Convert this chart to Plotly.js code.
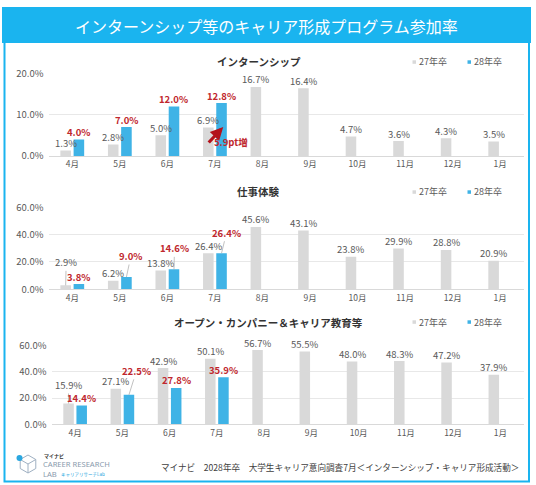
<!DOCTYPE html>
<html>
<head>
<meta charset="utf-8">
<script src="https://cdn.plot.ly/plotly-3.0.1.min.js"></script>
<style>
html,body{margin:0;padding:0;background:#fff;}
#chart{width:536px;height:485px;}
</style>
</head>
<body>
<div id="chart"></div>
<script>
// ---- data ----
const categories = ['4月','5月','6月','7月','8月','9月','10月','11月','12月','1月'];
const seriesNames = ['27年卒','28年卒'];
const panelTitles = ['インターンシップ','仕事体験','オープン・カンパニー＆キャリア教育等'];
const intern27 = [1.3, 2.8, 5.0, 6.9, 16.7, 16.4, 4.7, 3.6, 4.3, 3.5];
const intern28 = [4.0, 7.0, 12.0, 12.8];
const work27 = [2.9, 6.2, 13.8, 26.4, 45.6, 43.1, 23.8, 29.9, 28.8, 20.9];
const work28 = [3.8, 9.0, 14.6, 26.4];
const open27 = [15.9, 27.1, 42.9, 50.1, 56.7, 55.5, 48.0, 48.3, 47.2, 37.9];
const open28 = [14.4, 22.5, 27.8, 35.9];
const yMax = [20, 60, 60];
const yStep = [10, 20, 20];
const mainTitle = 'インターンシップ等のキャリア形成プログラム参加率';
const footerText = 'マイナビ　2028年卒　大学生キャリア意向調査7月＜インターンシップ・キャリア形成活動＞';
const calloutText = '5.9pt増';

// ---- layout helpers (pixel -> paper) ----
const W = 536, H = 485;
const px = x => x / W;
const py = y => 1 - y / H;

const FONT = '"Noto Sans CJK JP", "Noto Sans", sans-serif';
const GRAY = '#d9d9d9';
const BLUE = '#3fb3e6';
const RED = '#c0272d';
const FRAME = '#1ab4ef';
const TXT = '#595959';

const panels = [
  {old: intern27, neu: intern28, xd: [48.5, 524], yd: [156, 73.3], titleX: 259, titleY: 62},
  {old: work27, neu: work28, xd: [48.5, 524], yd: [289.3, 207.3], titleX: 258, titleY: 192},
  {old: open27, neu: open28, xd: [51.5, 524], yd: [424.3, 345.7], titleX: 268, titleY: 322}
];

// label placements needing leader lines: [panel, series(0=old,1=new), index, ax, ay]
const leaders = [
  [1, 0, 0, 0.5, -23],
  [1, 1, 1, 4.5, -21],
  [1, 1, 2, 0.5, -21],
  [1, 1, 3, 5, -20.5],
  [2, 0, 0, 0, -18.5],
  [2, 1, 1, 7.5, -24]
];

const traces = [];
const annotations = [];
const shapes = [];
const layout = {
  width: W, height: H,
  margin: {l: 0, r: 0, t: 0, b: 0},
  paper_bgcolor: '#ffffff',
  plot_bgcolor: 'rgba(0,0,0,0)',
  barmode: 'group',
  bargap: 0.444,
  bargroupgap: 0.2,
  showlegend: false,
  font: {family: FONT, color: TXT}
};

panels.forEach((p, i) => {
  const n = i === 0 ? '' : String(i + 1);
  const xa = 'x' + n, ya = 'y' + n;
  traces.push({
    type: 'bar', name: seriesNames[0], x: categories, y: p.old,
    xaxis: xa, yaxis: ya, marker: {color: GRAY}, hoverinfo: 'skip'
  });
  traces.push({
    type: 'bar', name: seriesNames[1], x: categories.slice(0, p.neu.length), y: p.neu,
    xaxis: xa, yaxis: ya, marker: {color: BLUE}, hoverinfo: 'skip'
  });
  layout['xaxis' + n] = {
    type: 'category', domain: [px(p.xd[0]), px(p.xd[1])], anchor: ya,
    categoryorder: 'array', categoryarray: categories,
    showgrid: false, showline: true, linecolor: GRAY, linewidth: 1,
    ticks: '', tickfont: {family: FONT, size: 8.5, color: TXT}, fixedrange: true
  };
  layout['yaxis' + n] = {
    domain: [py(p.yd[0]), py(p.yd[1])], anchor: xa,
    range: [0, yMax[i]], dtick: yStep[i], tick0: 0,
    tickformat: '.1f', ticksuffix: '%',
    showgrid: true, gridcolor: '#e8e8e8', gridwidth: 1, zeroline: false,
    showline: false, ticks: '', ticklabelstandoff: 4,
    tickfont: {family: FONT, size: 9.5, color: TXT}, fixedrange: true
  };
  // panel title
  annotations.push({
    xref: 'paper', yref: 'paper', x: px(p.titleX), y: py(p.titleY),
    xanchor: 'center', yanchor: 'middle', showarrow: false,
    text: panelTitles[i], font: {family: FONT, size: 10.5, color: '#333333', weight: 'bold'}
  });
  // legend
  const legY = p.titleY;
  [[412.5, GRAY, seriesNames[0]], [467.5, BLUE, seriesNames[1]]].forEach(([lx, c, t]) => {
    shapes.push({type: 'rect', xref: 'paper', yref: 'paper',
      x0: px(lx), x1: px(lx + 3.5), y0: py(legY + 1.8), y1: py(legY - 1.7),
      fillcolor: c, line: {width: 0}});
    annotations.push({xref: 'paper', yref: 'paper', x: px(lx + 4.5), y: py(legY),
      xanchor: 'left', yanchor: 'middle', showarrow: false, text: t,
      font: {family: FONT, size: 9, color: TXT}});
  });
  // data labels
  const half = (p.xd[1] - p.xd[0]) / categories.length * (1 - layout.bargap) / 4;
  [p.old, p.neu].forEach((arr, s) => {
    arr.forEach((v, k) => {
      const lead = leaders.find(l => l[0] === i && l[1] === s && l[2] === k);
      const a = {
        xref: xa, yref: ya, x: categories[k], y: v,
        xshift: s === 0 ? -half : half,
        text: v.toFixed(1) + '%',
        font: s === 0 ? {family: FONT, size: 9.5, color: TXT}
                      : {family: FONT, size: 9.5, color: RED, weight: 'bold'}
      };
      if (lead) {
        Object.assign(a, {showarrow: true, arrowhead: 0, arrowwidth: 0.7,
          arrowcolor: '#a6a6a6', ax: lead[3], ay: lead[4], standoff: 0, startstandoff: 0});
      } else {
        Object.assign(a, {showarrow: false, yshift: 7.5});
      }
      annotations.push(a);
    });
  });
});

// callout arrow on panel 1
annotations.push({
  xref: 'x', yref: 'y', x: categories[3], y: 7.0, xshift: 8.3,
  showarrow: true, text: ' ', font: {size: 1}, borderpad: 0,
  ax: -15, ay: 16,
  arrowhead: 2, arrowsize: 0.8, arrowwidth: 3.2, arrowcolor: '#b3121b'
});
annotations.push({
  xref: 'x', yref: 'y', x: categories[3], y: 3.3, xshift: 16.3,
  showarrow: false, text: calloutText,
  font: {family: FONT, size: 9.5, color: RED, weight: 'bold'}
});

// frame + banner
shapes.push({type: 'rect', xref: 'paper', yref: 'paper',
  x0: px(4.5), x1: px(529), y0: py(481.5), y1: py(40),
  line: {color: FRAME, width: 2}, fillcolor: 'rgba(0,0,0,0)'});
shapes.push({type: 'rect', xref: 'paper', yref: 'paper',
  x0: px(2), x1: px(531), y0: py(43), y1: py(7),
  line: {width: 0}, fillcolor: FRAME});
annotations.push({xref: 'paper', yref: 'paper', x: px(266), y: py(25.5),
  xanchor: 'center', yanchor: 'middle', showarrow: false, text: mainTitle,
  font: {family: FONT, size: 16, color: '#ffffff'}});

// footer
annotations.push({xref: 'paper', yref: 'paper', x: px(340), y: py(466.5),
  xanchor: 'center', yanchor: 'middle', showarrow: false, text: footerText,
  font: {family: FONT, size: 8.6, color: '#404040'}});

// logo
const hexPath = (cx, cy, r) => {
  let d = '';
  for (let j = 0; j < 6; j++) {
    const ang = Math.PI / 180 * (60 * j - 90);
    d += (j === 0 ? 'M' : 'L') + px(cx + r * Math.cos(ang)) + ',' + py(cy + r * Math.sin(ang));
  }
  return d + 'Z';
};
shapes.push({type: 'path', xref: 'paper', yref: 'paper', path: hexPath(28, 464, 9),
  line: {color: '#9fb0c2', width: 1}});
shapes.push({type: 'path', xref: 'paper', yref: 'paper',
  path: 'M' + px(28) + ',' + py(464) + 'L' + px(28) + ',' + py(473) +
        'M' + px(28) + ',' + py(464) + 'L' + px(35.8) + ',' + py(459.5) +
        'M' + px(28) + ',' + py(464) + 'L' + px(20.2) + ',' + py(459.5),
  line: {color: '#9fb0c2', width: 1}});
shapes.push({type: 'circle', xref: 'paper', yref: 'paper',
  x0: px(16.5), x1: px(22.5), y0: py(461), y1: py(455),
  fillcolor: '#2aa7e0', line: {width: 0}});
annotations.push({xref: 'paper', yref: 'paper', x: px(41.5), y: py(455.5),
  xanchor: 'left', yanchor: 'middle', showarrow: false, text: 'マイナビ',
  font: {family: FONT, size: 5, color: '#333333', weight: 'bold'}});
annotations.push({xref: 'paper', yref: 'paper', x: px(41), y: py(463.5),
  xanchor: 'left', yanchor: 'middle', showarrow: false, text: 'CAREER RESEARCH',
  font: {family: '"Noto Sans", sans-serif', size: 7.6, color: '#8a9bad'}});
annotations.push({xref: 'paper', yref: 'paper', x: px(41), y: py(474),
  xanchor: 'left', yanchor: 'middle', showarrow: false, text: 'LAB',
  font: {family: '"Noto Sans", sans-serif', size: 7.6, color: '#8a9bad'}});
annotations.push({xref: 'paper', yref: 'paper', x: px(59), y: py(474),
  xanchor: 'left', yanchor: 'middle', showarrow: false, text: 'キャリアリサーチLab',
  font: {family: FONT, size: 4.5, color: '#2aa7e0'}});

layout.annotations = annotations;
layout.shapes = shapes;

Plotly.newPlot('chart', traces, layout, {displayModeBar: false, staticPlot: true});
</script>
</body>
</html>
